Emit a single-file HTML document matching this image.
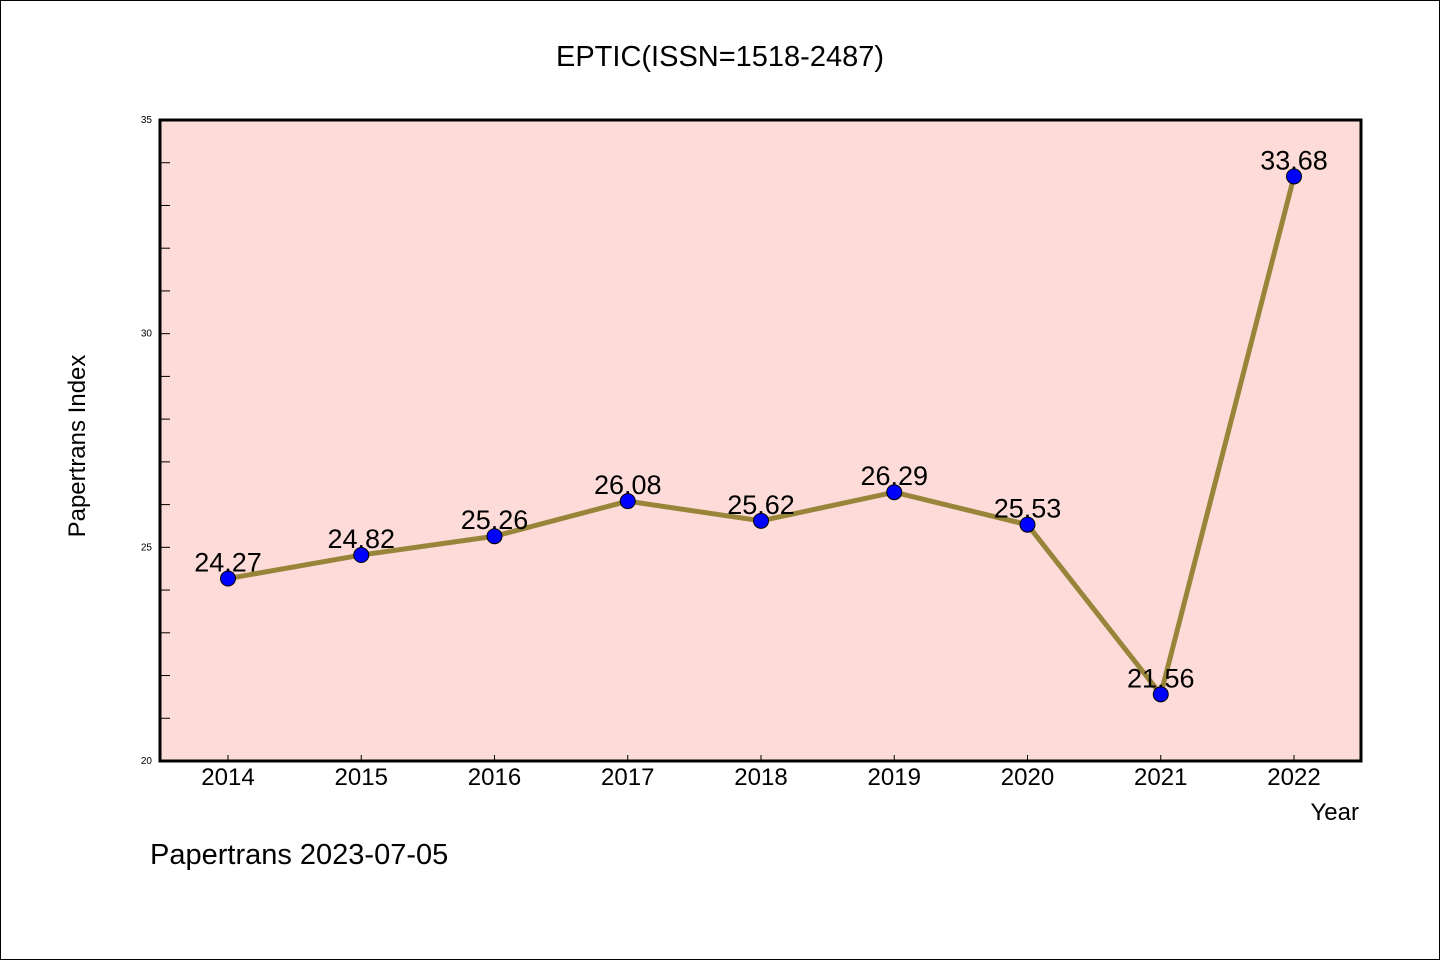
<!DOCTYPE html>
<html><head><meta charset="utf-8"><style>
html,body{margin:0;padding:0;background:#fff}
svg{display:block}
text{font-family:"WenQuanYi Zen Hei Mono","WenQuanYi Zen Hei","Liberation Sans",sans-serif}
</style></head><body>
<svg id="c" width="1440" height="960" xmlns="http://www.w3.org/2000/svg">
<rect x="0.5" y="0.5" width="1439" height="959" fill="#fff" stroke="#000"/>
<text x="720" y="66" font-size="29" text-anchor="middle">EPTIC(ISSN=1518-2487)</text>
<rect x="160" y="120" width="1201" height="641" fill="#fddbd8"/>
<g id="ticks"></g>
<g id="series"></g>
<rect x="160" y="120" width="1201" height="641" fill="none" stroke="#000" stroke-width="3"/>
<text x="85" y="446" font-size="24" text-anchor="middle" transform="rotate(-90 85 446)">Papertrans Index</text>
<text x="1359" y="820" font-size="24" text-anchor="end">Year</text>
<text x="150" y="864" font-size="29">Papertrans 2023-07-05</text>
</svg>
<script>
const years = [2014,2015,2016,2017,2018,2019,2020,2021,2022];
const values = [24.27,24.82,25.26,26.08,25.62,26.29,25.53,21.56,33.68];
const valueLabels = ["24.27","24.82","25.26","26.08","25.62","26.29","25.53","21.56","33.68"];
const yTickLabels = [20,25,30,35];
const NS="http://www.w3.org/2000/svg";
const yMin=20,yMax=35,plotTop=120,plotBot=761;
const sy=v=>plotBot-(v-yMin)/(yMax-yMin)*(plotBot-plotTop);
const xStart=228,xEnd=1294;
const sx=i=>xStart+i*(xEnd-xStart)/(years.length-1);
function mk(tag,attrs,parent){const e=document.createElementNS(NS,tag);for(const k in attrs)e.setAttribute(k,attrs[k]);parent.appendChild(e);return e;}
const T=document.getElementById('ticks'),S=document.getElementById('series');
for(let v=yMin;v<=yMax;v++){
  const t=mk('line',{x1:160,x2:170,y1:sy(v),y2:sy(v),stroke:'#000','stroke-width':1},T);
  
  
}
yTickLabels.forEach(v=>{
  const t=mk('text',{x:152,y:sy(v)+3,'font-size':10,'text-anchor':'end'},T);
  t.textContent=v;
  
  
});
years.forEach((y,i)=>{
  const t=mk('line',{x1:sx(i),x2:sx(i),y1:plotBot,y2:plotBot-6,stroke:'#000','stroke-width':1},T);
  
  
  const l=mk('text',{x:sx(i),y:785,'font-size':24,'text-anchor':'middle'},T);
  l.textContent=y;
  
  
});
const pl=mk('polyline',{points:values.map((v,i)=>sx(i)+','+sy(v)).join(' '),fill:'none',stroke:'#998539','stroke-width':5,'stroke-linejoin':'round'},S);


values.forEach((v,i)=>{
  const c=mk('circle',{cx:sx(i),cy:sy(v),r:7.5,fill:'#0000ff',stroke:'#000','stroke-width':1},S);
  
  
  const t=mk('text',{x:sx(i),y:sy(v)-7,'font-size':27,'text-anchor':'middle'},S);
  t.textContent=valueLabels[i];
  
  
});
</script>
</body></html>
